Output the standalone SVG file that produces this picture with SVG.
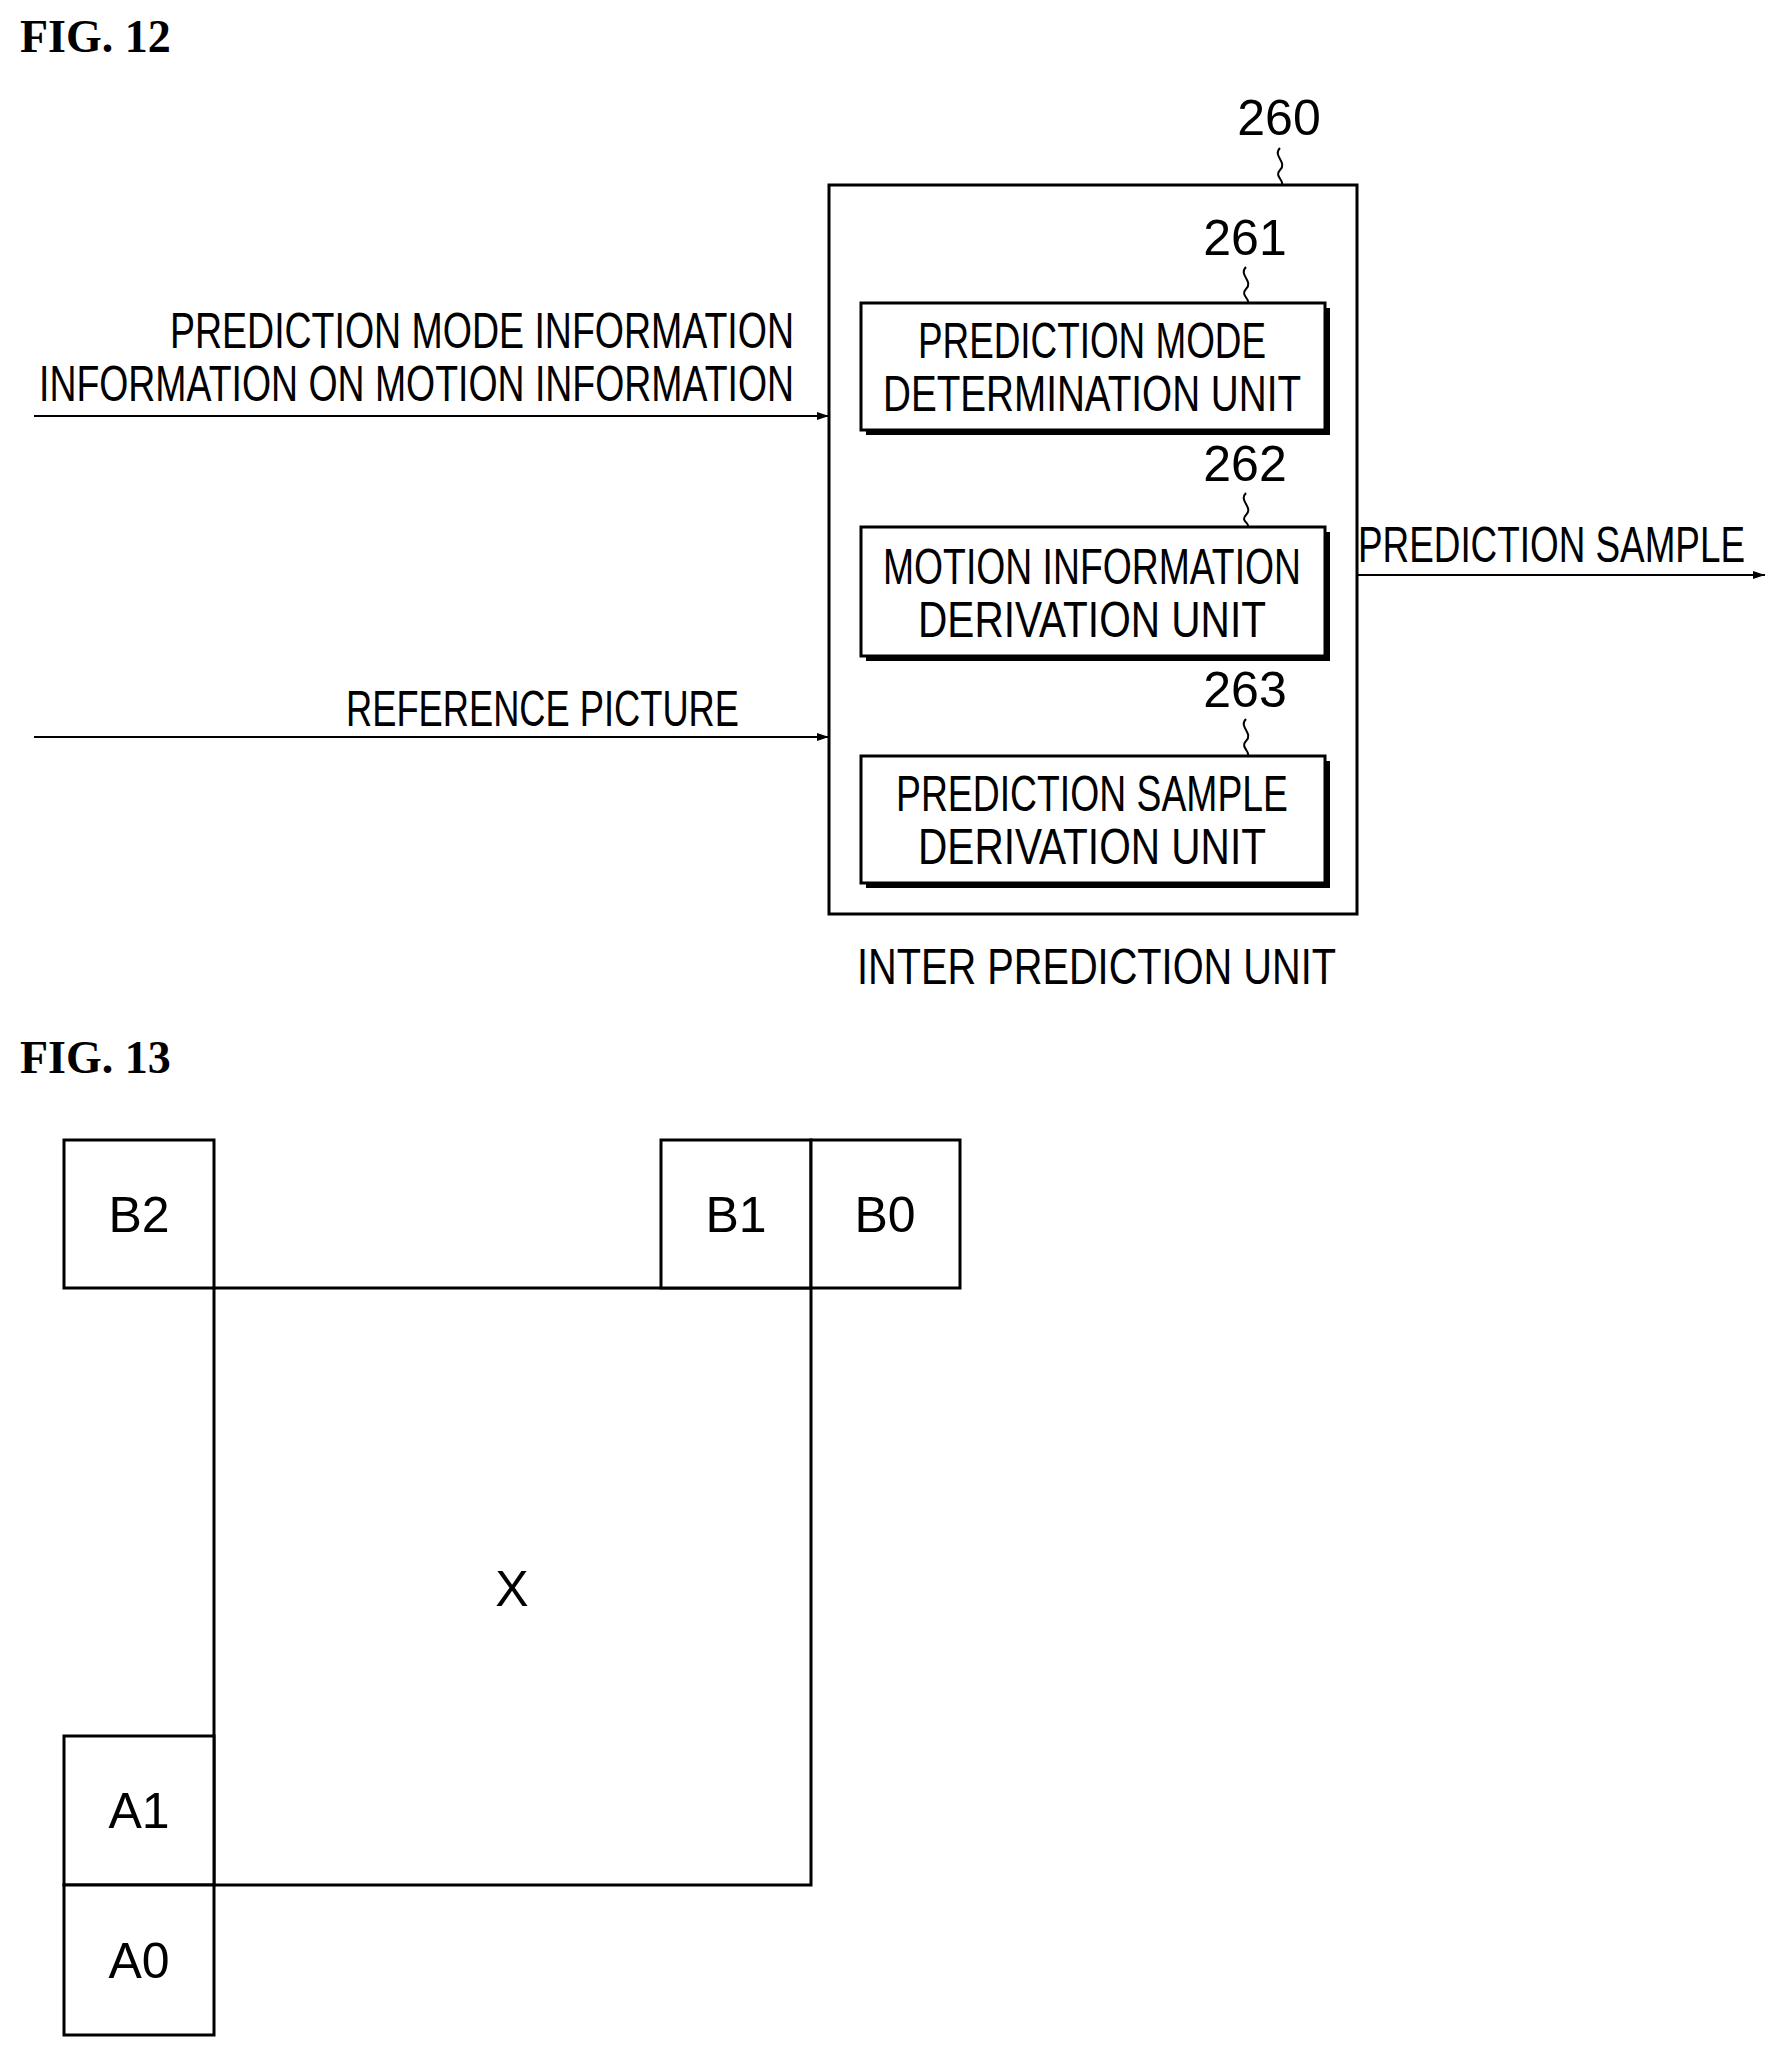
<svg xmlns="http://www.w3.org/2000/svg" width="1784" height="2056" viewBox="0 0 1784 2056">
<defs>
<style>
.t{font-family:"Liberation Sans",Arial,sans-serif;font-size:50px;fill:#000}
.f{font-family:"Liberation Serif","Times New Roman",serif;font-weight:bold;font-size:46px;fill:#000}
.b{fill:#fff;stroke:#000;stroke-width:3}
.s{fill:none;stroke:#000;stroke-width:2}
.c{fill:none;stroke:#000;stroke-width:2}
</style>
<marker id="ar" markerWidth="12" markerHeight="8" refX="12" refY="4" orient="auto" markerUnits="userSpaceOnUse"><path d="M0,0 L12,4 L0,8 Z" fill="#000"/></marker>
</defs>
<rect width="1784" height="2056" fill="#fff"/>
<text class="f" x="20" y="52">FIG. 12</text>
<text class="f" x="20" y="1073">FIG. 13</text>
<g id="outer"><rect class="b" x="829" y="185" width="528" height="729"/>
<text class="t" x="1279" y="135" text-anchor="middle">260</text>
<path class="s" d="M1280,148 c-8,8 8,14 0,22 c-6,6 4,10 2,15"/>
<text class="t" x="857" y="984" textLength="479" lengthAdjust="spacingAndGlyphs">INTER PREDICTION UNIT</text></g>
<g id="n261"><rect x="866" y="308" width="464" height="127" fill="#000"/><rect class="b" x="861" y="303" width="464" height="127"/>
<text class="t" x="1245" y="255" text-anchor="middle">261</text>
<path class="s" d="M1246,267 c-8,8 8,14 0,22 c-6,6 4,10 2,14"/>
<text class="t" x="918" y="358" textLength="348" lengthAdjust="spacingAndGlyphs">PREDICTION MODE</text>
<text class="t" x="883" y="411" textLength="418" lengthAdjust="spacingAndGlyphs">DETERMINATION UNIT</text></g>
<g id="n262"><rect x="866" y="532" width="464" height="129" fill="#000"/><rect class="b" x="861" y="527" width="464" height="129"/>
<text class="t" x="1245" y="481" text-anchor="middle">262</text>
<path class="s" d="M1246,493 c-8,8 8,14 0,22 c-6,6 4,8 2,12"/>
<text class="t" x="883" y="584" textLength="418" lengthAdjust="spacingAndGlyphs">MOTION INFORMATION</text>
<text class="t" x="918" y="637" textLength="348" lengthAdjust="spacingAndGlyphs">DERIVATION UNIT</text></g>
<g id="n263"><rect x="866" y="761" width="464" height="127" fill="#000"/><rect class="b" x="861" y="756" width="464" height="127"/>
<text class="t" x="1245" y="707" text-anchor="middle">263</text>
<path class="s" d="M1246,719 c-8,8 8,14 0,22 c-6,6 4,10 2,15"/>
<text class="t" x="896" y="811" textLength="392" lengthAdjust="spacingAndGlyphs">PREDICTION SAMPLE</text>
<text class="t" x="918" y="864" textLength="348" lengthAdjust="spacingAndGlyphs">DERIVATION UNIT</text></g>
<g id="connectors">
<line class="c" x1="34" y1="416" x2="829" y2="416" marker-end="url(#ar)"/>
<line class="c" x1="34" y1="737" x2="829" y2="737" marker-end="url(#ar)"/>
<line class="c" x1="1357" y1="575" x2="1765" y2="575" marker-end="url(#ar)"/>
</g>
<g id="labels">
<text class="t" x="794" y="348" text-anchor="end" textLength="624" lengthAdjust="spacingAndGlyphs">PREDICTION MODE INFORMATION</text>
<text class="t" x="794" y="401" text-anchor="end" textLength="755" lengthAdjust="spacingAndGlyphs">INFORMATION ON MOTION INFORMATION</text>
<text class="t" x="346" y="726" textLength="393" lengthAdjust="spacingAndGlyphs">REFERENCE PICTURE</text>
<text class="t" x="1358" y="562" textLength="387" lengthAdjust="spacingAndGlyphs">PREDICTION SAMPLE</text>
</g>
<g id="X"><rect class="b" x="214" y="1288" width="597" height="597" stroke-width="2"/><text class="t" x="512" y="1606" text-anchor="middle">X</text></g>
<g id="B2"><rect class="b" x="64" y="1140" width="150" height="148" stroke-width="2"/><text class="t" x="139" y="1232" text-anchor="middle">B2</text></g>
<g id="B1"><rect class="b" x="661" y="1140" width="150" height="148" stroke-width="2"/><text class="t" x="736" y="1232" text-anchor="middle">B1</text></g>
<g id="B0"><rect class="b" x="811" y="1140" width="149" height="148" stroke-width="2"/><text class="t" x="885" y="1232" text-anchor="middle">B0</text></g>
<g id="A1"><rect class="b" x="64" y="1736" width="150" height="149" stroke-width="2"/><text class="t" x="139" y="1828" text-anchor="middle">A1</text></g>
<g id="A0"><rect class="b" x="64" y="1885" width="150" height="150" stroke-width="2"/><text class="t" x="139" y="1978" text-anchor="middle">A0</text></g>
</svg>
